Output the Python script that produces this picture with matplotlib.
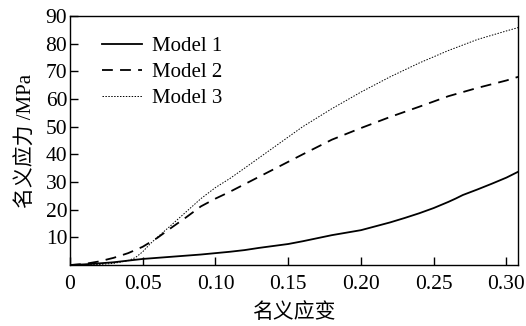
import matplotlib
matplotlib.use("Agg")
import matplotlib.pyplot as plt

plt.rcParams['font.family'] = ['Liberation Serif', 'Noto Sans CJK SC']
plt.rcParams['axes.unicode_minus'] = False

# nominal strain / nominal stress (MPa)
strain1 = [0, 0.01, 0.02, 0.03, 0.04, 0.05, 0.06, 0.07, 0.08, 0.09, 0.10, 0.11,
           0.12, 0.13, 0.14, 0.15, 0.16, 0.17, 0.18, 0.19, 0.20, 0.21, 0.22,
           0.23, 0.24, 0.25, 0.26, 0.265, 0.27, 0.28, 0.29, 0.30, 0.308]
stress1 = [0, 0.25, 0.6, 1.0, 1.6, 2.2, 2.6, 3.0, 3.4, 3.8, 4.3, 4.8,
           5.4, 6.2, 6.9, 7.6, 8.6, 9.7, 10.8, 11.7, 12.6, 14.0, 15.4,
           17.0, 18.7, 20.6, 22.8, 24.0, 25.3, 27.3, 29.4, 31.6, 33.7]

strain2 = [0, 0.01, 0.02, 0.03, 0.04, 0.05, 0.06, 0.07, 0.08, 0.09, 0.10, 0.11,
           0.12, 0.14, 0.16, 0.18, 0.20, 0.22, 0.24, 0.26, 0.28, 0.30, 0.308]
stress2 = [0, 0.4, 1.3, 2.6, 4.3, 6.6, 9.8, 13.6, 17.3, 21.2, 24.0, 26.5,
           29.2, 34.6, 40.0, 45.3, 49.5, 53.5, 57.2, 61.0, 64.0, 66.7, 68.0]

strain3 = [0, 0.02, 0.03, 0.04, 0.045, 0.05, 0.055, 0.06, 0.07, 0.08, 0.09, 0.10,
           0.11, 0.12, 0.14, 0.16, 0.18, 0.20, 0.22, 0.24, 0.26, 0.28, 0.30, 0.308]
stress3 = [0, 0.2, 0.6, 1.6, 2.7, 4.8, 7.6, 10.0, 14.6, 19.3, 24.0, 28.0,
           31.3, 35.0, 42.5, 50.0, 56.5, 62.5, 68.0, 73.0, 77.5, 81.5, 84.6, 85.8]

labels = ["Model 1", "Model 2", "Model 3"]
xticks = [0, 0.05, 0.10, 0.15, 0.20, 0.25, 0.30]
xticklabels = ["0", "0.05", "0.10", "0.15", "0.20", "0.25", "0.30"]
yticks = [10, 20, 30, 40, 50, 60, 70, 80, 90]

fig = plt.figure(figsize=(5.26, 3.26), dpi=100)
ax = fig.add_axes([0.133, 0.187, 0.852, 0.764])

ax.plot(strain1, stress1, color='black', lw=1.3, ls='-', label=labels[0])
ax.plot(strain2, stress2, color='black', lw=1.3, ls=(0, (6, 4)), label=labels[1])
ax.plot(strain3, stress3, color='black', lw=0.7, ls=(0, (1.5, 1.5)), label=labels[2])

ax.set_xlim(0, 0.308)
ax.set_ylim(0, 90)
ax.set_xticks(xticks)
ax.set_xticklabels(xticklabels)
ax.set_yticks(yticks)
ax.tick_params(direction='in', length=6, width=1, labelsize=15.5, top=False, right=False)
ax.tick_params(axis='x', pad=7)
ax.tick_params(axis='y', pad=2)
for s in ax.spines.values():
    s.set_linewidth(1.0)

ax.set_xlabel("名义应变", fontsize=15, labelpad=7)
ax.set_ylabel("名义应力 /MPa", fontsize=15, labelpad=6)

ax.legend(loc='upper left', frameon=False, fontsize=15, handlelength=1.9,
          handletextpad=0.5, labelspacing=0.32, borderaxespad=0.0,
          bbox_to_anchor=(0.053, 0.952))

fig.savefig("out.png", dpi=100)
